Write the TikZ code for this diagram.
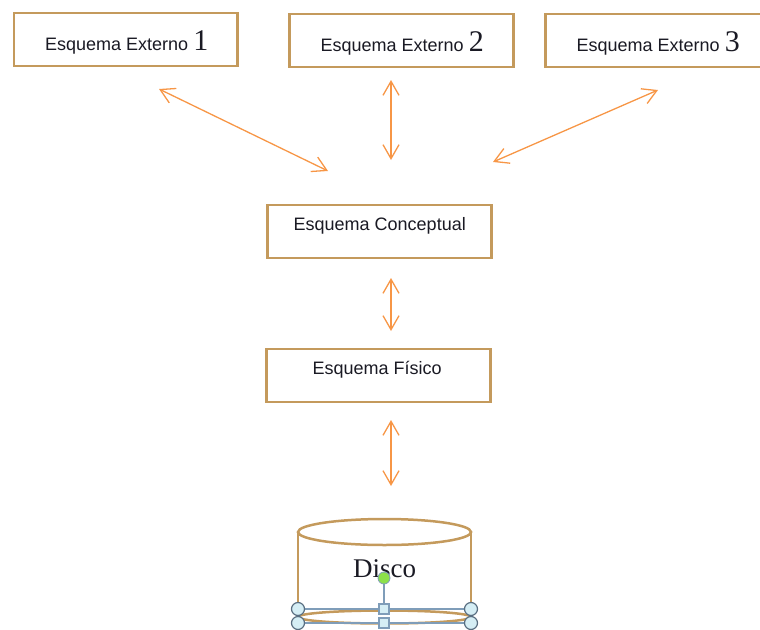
\documentclass[tikz,border=0pt]{standalone}
\usepackage{fontspec}
\setmainfont{Liberation Serif}
\setsansfont{Liberation Sans}
\usetikzlibrary{arrows.meta}
\definecolor{boxc}{HTML}{C49A5C}
\definecolor{arrc}{HTML}{F79646}
\definecolor{txtc}{HTML}{1A1A24}
\definecolor{selc}{HTML}{7F9DB9}
\definecolor{hfill}{HTML}{D5EEF5}
\definecolor{grn}{HTML}{8CE04A}
\tikzset{
  x=1pt,y=-1pt,
  schema/.style={draw=boxc,line width=2.5pt,fill=white,inner sep=0pt,anchor=north west},
  lbl/.style={font=\sffamily\fontsize{18}{20}\selectfont,text=txtc,anchor=base west,inner sep=0pt},
  dbl/.style={draw=arrc,line width=1.3pt,{Straight Barb[length=14pt,width=16pt,line width=1.3pt]}-{Straight Barb[length=14pt,width=16pt,line width=1.3pt]}},
  cyl/.style={draw=boxc,line width=2.5pt},
  sel/.style={draw=selc,line width=2pt},
  hround/.style={circle,draw=selc!70!black,line width=1.2pt,fill=hfill,minimum size=13pt,inner sep=0pt},
  hsquare/.style={rectangle,draw=selc,line width=1.2pt,fill=hfill,minimum size=10pt,inner sep=0pt},
  hrot/.style={circle,draw=selc,line width=.8pt,fill=grn,minimum size=12pt,inner sep=0pt}
}
\newcommand{\bignum}[1]{{\rmfamily\fontsize{30}{30}\selectfont #1}}
\begin{document}
\begin{tikzpicture}
\useasboundingbox (0,0) rectangle (760,629);
\clip (0,0) rectangle (760,629);
% boxes
\node[schema,minimum width=223.5pt,minimum height=53pt] (e1) at (12.8,11.5) {};
\node[schema,minimum width=224pt,minimum height=53pt] (e2) at (288,12.5) {};
\node[schema,minimum width=240pt,minimum height=53pt] (e3) at (544,12.5) {};
\node[schema,minimum width=224pt,minimum height=53pt] (ec) at (266.3,203.5) {};
\node[schema,minimum width=224pt,minimum height=53pt] (ef) at (265,347.5) {};
% labels
\node[lbl] (l1) at (45,50) {Esquema Externo \bignum{1}};
\node[lbl] (l2) at (320.5,51.5) {Esquema Externo \bignum{2}};
\node[lbl] (l3) at (576.5,51.5) {Esquema Externo \bignum{3}};
\node[lbl] (lc) at (293.5,230) {Esquema Conceptual};
\node[lbl] (lf) at (312.5,374) {Esquema Físico};
% free ends of connectors
\coordinate (a1s) at (159,89);
\coordinate (a1t) at (328,171);
\coordinate (a2s) at (391,80);
\coordinate (a2t) at (391,160);
\coordinate (a3s) at (658,90);
\coordinate (a3t) at (493,162);
\coordinate (a4s) at (391,278);
\coordinate (a4t) at (391,331);
\coordinate (a5s) at (391,420);
\coordinate (a5t) at (391,486);
\draw[dbl] (a1s) -- (a1t);
\draw[dbl] (a2s) -- (a2t);
\draw[dbl] (a3s) -- (a3t);
\draw[dbl] (a4s) -- (a4t);
\draw[dbl] (a5s) -- (a5t);
% cylinder
\draw[cyl] (298,532) -- (298,617);
\draw[cyl] (471,532) -- (471,617);
\draw[cyl] (384.5,532) ellipse [x radius=86.5,y radius=13];
\draw[cyl] (384.5,617) ellipse [x radius=86.5,y radius=6.5];
\node[font=\rmfamily\fontsize{27}{28}\selectfont,text=txtc,anchor=base,inner sep=0pt] (disco) at (384.5,577) {Disco};
% selection handles
\draw[sel] (298,609) rectangle (471,623);
\draw[sel] (384,578) -- (384,609);
\node[hrot] (rot) at (384,578) {};
\node[hround] (h1) at (298,609) {};
\node[hsquare] (h2) at (384,609) {};
\node[hround] (h3) at (471,609) {};
\node[hround] (h4) at (298,623) {};
\node[hsquare] (h5) at (384,623) {};
\node[hround] (h6) at (471,623) {};
\end{tikzpicture}
\end{document}
